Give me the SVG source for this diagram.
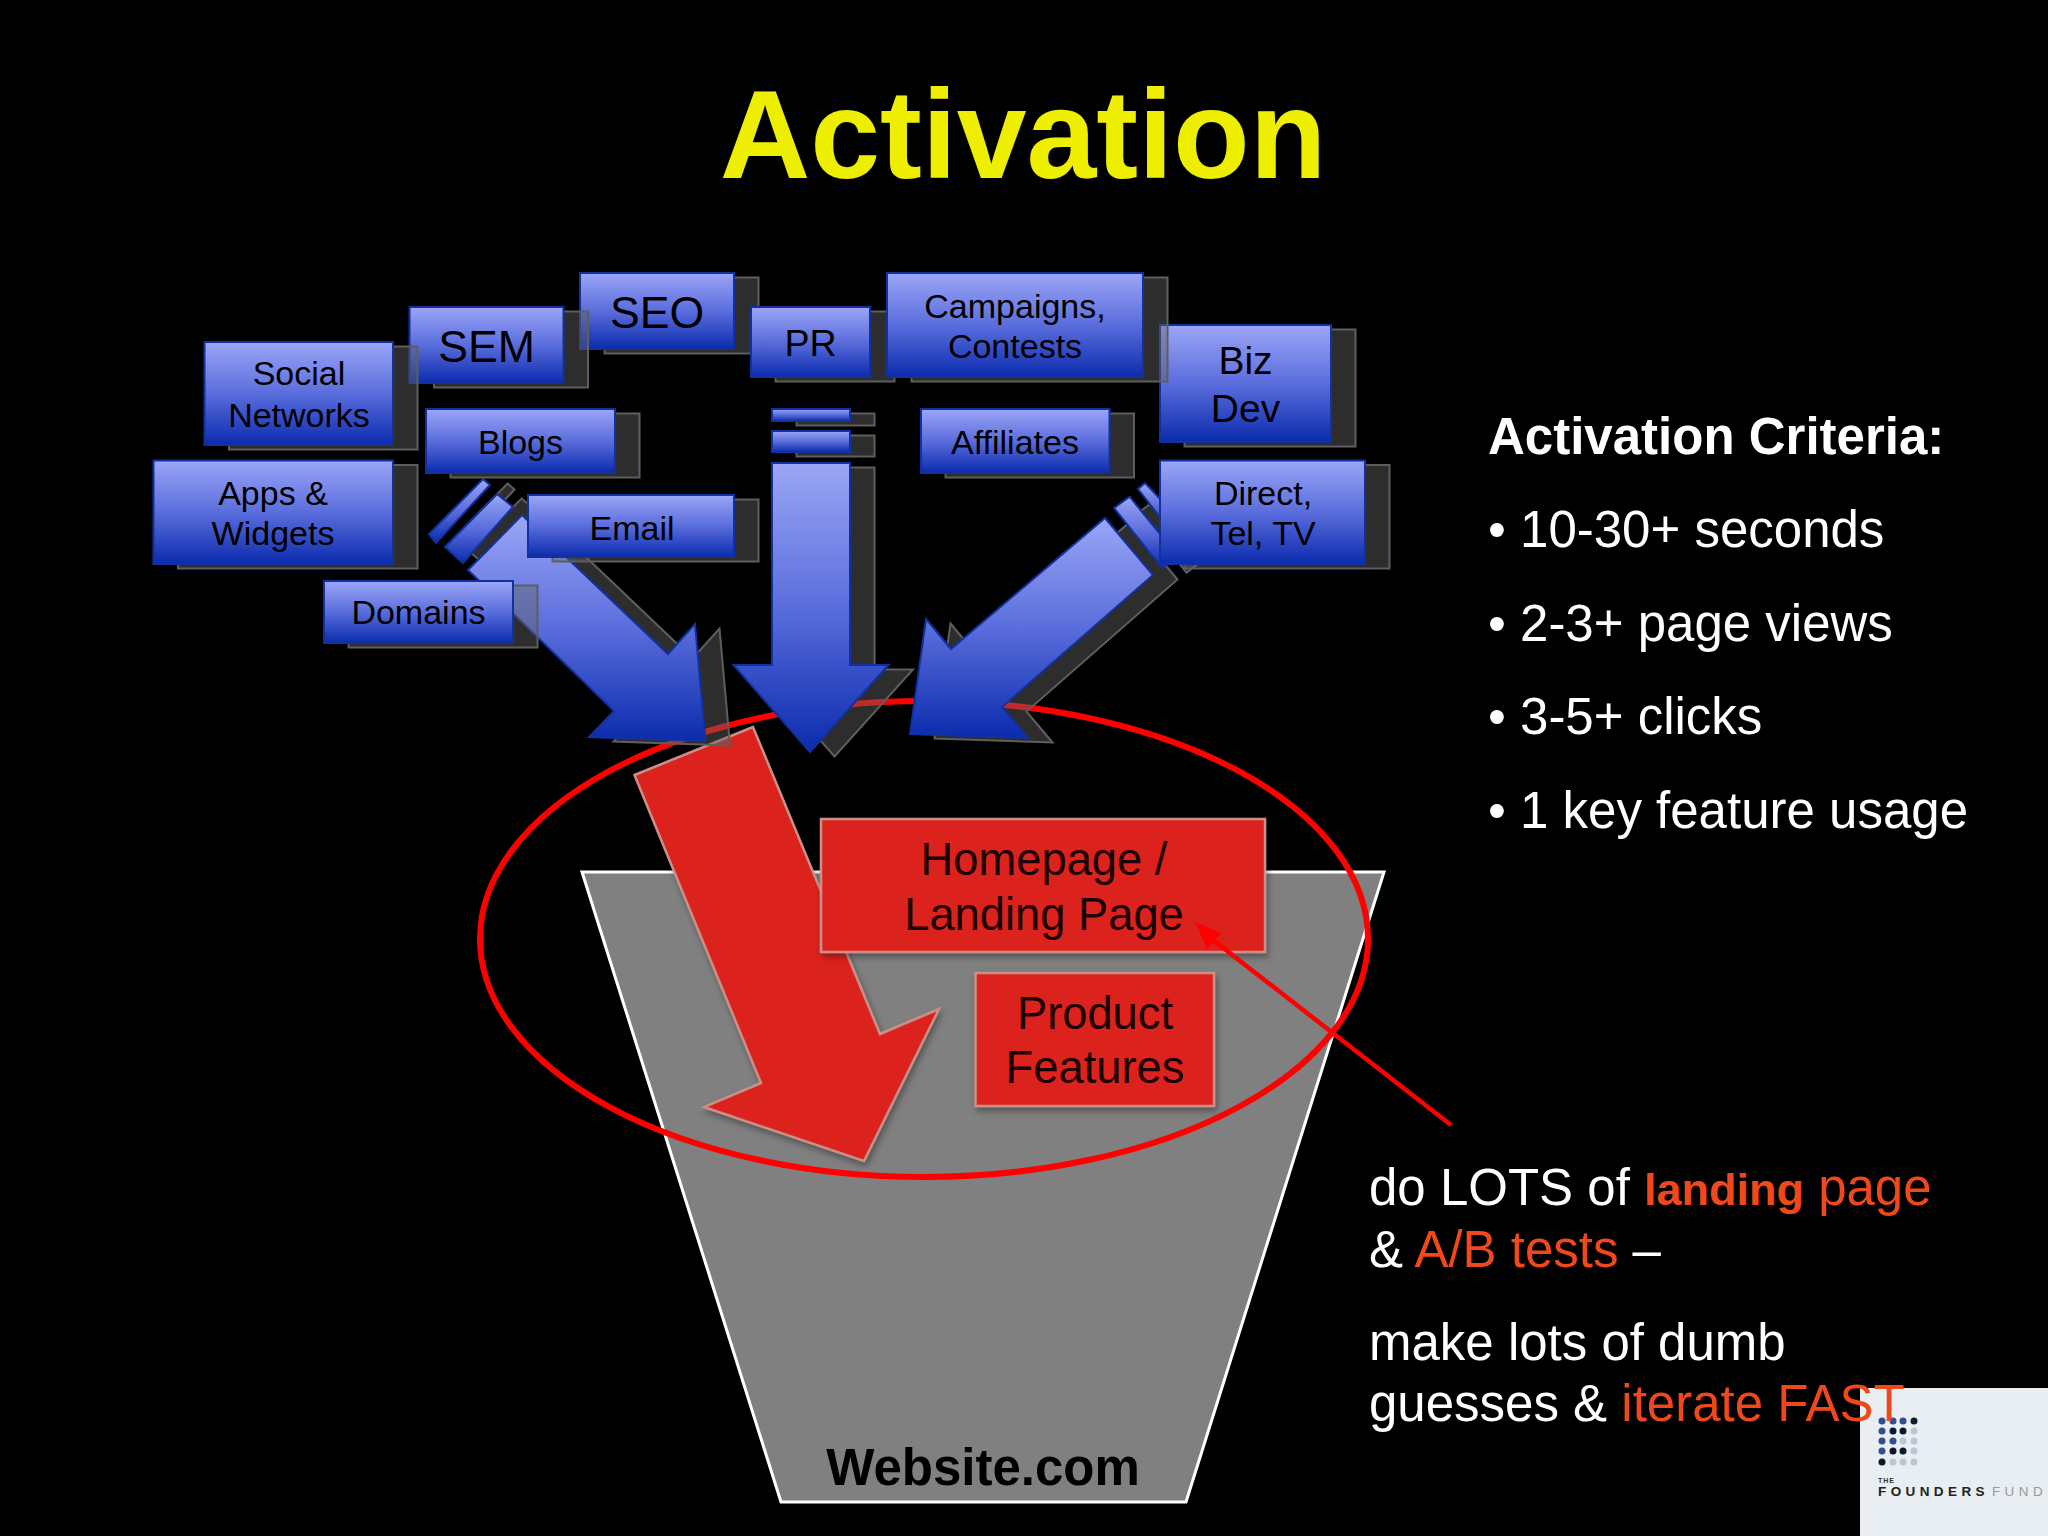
<svg xmlns="http://www.w3.org/2000/svg" width="2048" height="1536" viewBox="0 0 2048 1536">
<defs>
<linearGradient id="blue" x1="0" y1="0" x2="0" y2="1"><stop offset="0" stop-color="#9ba6f6"/><stop offset="0.5" stop-color="#5a6ddc"/><stop offset="1" stop-color="#0b2bad"/></linearGradient>
<filter id="soft" x="-10%" y="-10%" width="120%" height="120%"><feDropShadow dx="2" dy="4" stdDeviation="3" flood-color="#000" flood-opacity="0.35"/></filter>
</defs>
<style>
text{font-family:"Liberation Sans",Arial,sans-serif}
.sh{fill:rgba(100,100,100,.45);stroke:#5e5e5e;stroke-width:2}
.bl{fill:url(#blue);stroke:#12319f;stroke-width:2}
.rd{fill:#dc241b;stroke:#c98f88;stroke-width:2.5;filter:url(#soft)}
.lb{fill:#000;text-anchor:middle}
.rl{fill:#1a0000;text-anchor:middle;font-size:45.300px}
.wt{fill:#fff;font-size:51px}
.or{fill:#f0481a}
.b{font-weight:bold}
</style>
<rect width="2048" height="1536" fill="#000"/>
<text id="title" x="1023" y="178" font-size="125.500" font-weight="bold" fill="#eeee00" text-anchor="middle">Activation</text>

<g id="website">
<polygon points="582,872 1384,872 1186,1502 781,1502" fill="#808080" stroke="#fff" stroke-width="3"/>
<text x="983" y="1485" font-size="51" font-weight="bold" fill="#000" text-anchor="middle">Website.com</text>
</g>
<ellipse id="focus" cx="924" cy="939" rx="444" ry="238" fill="none" stroke="#f00" stroke-width="6"/>

<g id="connectors">
<polygon id="red-arrow" class="rd" points="753,727 634.500,775 761,1083 704,1107 864,1161 939,1009 880,1034"/>
<g id="left-arrow">
<g transform="translate(24.500 4.500)" class="sh"><polygon points="483,479 490,485 436,543 429,534"/><polygon points="497,494 513,507 463,563 445,547"/><polygon points="522,515 468,570 614,711 589,737 705.500,741 695,624 668,654"/></g>
<polygon class="bl" points="483,479 490,485 436,543 429,534"/><polygon class="bl" points="497,494 513,507 463,563 445,547"/>
<polygon class="bl" points="522,515 468,570 614,711 589,737 705.500,741 695,624 668,654"/>
</g>
<g id="center-arrow">
<g transform="translate(24.500 4.500)" class="sh"><rect x="772" y="409" width="78" height="12"/><rect x="772" y="431" width="78" height="21"/><polygon points="772,463 850,463 850,665 888.500,665 810,752 733.500,665 772,665"/></g>
<rect class="bl" x="772" y="409" width="78" height="12"/><rect class="bl" x="772" y="431" width="78" height="21"/>
<polygon class="bl" points="772,463 850,463 850,665 888.500,665 810,752 733.500,665 772,665"/>
</g>
<g id="right-arrow">
<g transform="translate(24.500 4.500)" class="sh"><polygon points="1145,483 1138,489 1170,530 1180,520"/><polygon points="1129.600,496.700 1114,508 1162,568 1178,556"/><polygon points="1105,518 1153,575 1002,707 1028,738 910,734 926,619 951,649"/></g>
<polygon class="bl" points="1145,483 1138,489 1170,530 1180,520"/><polygon class="bl" points="1129.600,496.700 1114,508 1162,568 1178,556"/>
<polygon class="bl" points="1105,518 1153,575 1002,707 1028,738 910,734 926,619 951,649"/>
</g>
</g>

<g id="homepage">
<rect class="rd" x="821" y="819" width="444" height="133"/>
<text class="rl" x="1044" y="875">Homepage /</text><text class="rl" x="1044" y="930">Landing Page</text>
</g>
<g id="product">
<rect class="rd" x="975.500" y="973" width="238.500" height="133"/>
<text class="rl" x="1095" y="1029">Product</text><text class="rl" x="1095" y="1083">Features</text>
</g>

<g id="seo"><rect class="sh" x="604.500" y="277.500" width="154" height="76"/><rect class="bl" x="580" y="273" width="154" height="76"/><text class="lb" x="657" y="328" font-size="44.600">SEO</text></g>
<g id="sem"><rect class="sh" x="434" y="311.500" width="154" height="76"/><rect class="bl" x="409.500" y="307" width="154" height="76"/><text class="lb" x="486.500" y="362" font-size="44.600">SEM</text></g>
<g id="social"><rect class="sh" x="229" y="346.500" width="188.500" height="103"/><rect class="bl" x="204.500" y="342" width="188.500" height="103"/><text class="lb" x="299" y="385" font-size="34">Social</text><text class="lb" x="299" y="427" font-size="34">Networks</text></g>
<g id="pr"><rect class="sh" x="775.500" y="311.500" width="119" height="70"/><rect class="bl" x="751" y="307" width="119" height="70"/><text class="lb" x="810.500" y="356" font-size="37.600">PR</text></g>
<g id="bizdev"><rect class="sh" x="1184.500" y="329.500" width="171" height="117"/><rect class="bl" x="1160" y="325" width="171" height="117"/><text class="lb" x="1245.500" y="374" font-size="39">Biz</text><text class="lb" x="1245.500" y="422" font-size="39">Dev</text></g>
<g id="campaigns"><rect class="sh" x="911.500" y="277.500" width="256" height="104"/><rect class="bl" x="887" y="273" width="256" height="104"/><text class="lb" x="1015" y="318" font-size="34">Campaigns,</text><text class="lb" x="1015" y="358" font-size="34">Contests</text></g>
<g id="blogs"><rect class="sh" x="450.500" y="413.500" width="189" height="64"/><rect class="bl" x="426" y="409" width="189" height="64"/><text class="lb" x="520.500" y="454" font-size="34">Blogs</text></g>
<g id="affiliates"><rect class="sh" x="945.500" y="413.500" width="188.500" height="64"/><rect class="bl" x="921" y="409" width="188.500" height="64"/><text class="lb" x="1015" y="454" font-size="34">Affiliates</text></g>
<g id="apps"><rect class="sh" x="178" y="465" width="239.500" height="103.500"/><rect class="bl" x="153.500" y="460.500" width="239.500" height="103.500"/><text class="lb" x="273" y="505" font-size="34">Apps &amp;</text><text class="lb" x="273" y="545" font-size="34">Widgets</text></g>
<g id="email"><rect class="sh" x="552.500" y="499.500" width="206" height="62"/><rect class="bl" x="528" y="495" width="206" height="62"/><text class="lb" x="632" y="540" font-size="34">Email</text></g>
<g id="domains"><rect class="sh" x="348.500" y="585.500" width="189" height="62"/><rect class="bl" x="324" y="581" width="189" height="62"/><text class="lb" x="418.500" y="624" font-size="34">Domains</text></g>
<g id="direct"><rect class="sh" x="1184.500" y="465" width="205" height="103.500"/><rect class="bl" x="1160" y="460.500" width="205" height="103.500"/><text class="lb" x="1263" y="505" font-size="34">Direct,</text><text class="lb" x="1263" y="545" font-size="34">Tel, TV</text></g>

<g id="callout-arrow"><line x1="1451" y1="1125" x2="1208" y2="936" stroke="#f00" stroke-width="4.500"/><polygon points="1195,922 1221,933 1207,949" fill="#f00"/></g>

<g id="logo">
<rect x="1860" y="1388" width="188" height="148" fill="#e8eef2"/>
<g fill="#2f4f8f"><circle cx="1882" cy="1421" r="3.500"/><circle cx="1893" cy="1421" r="3.500"/><circle cx="1903" cy="1421" r="3.500"/><circle cx="1882" cy="1431" r="3.500"/><circle cx="1882" cy="1441" r="3.500"/><circle cx="1893" cy="1441" r="3.500"/><circle cx="1882" cy="1451" r="3.500"/></g>
<g fill="#0e1a2c"><circle cx="1914" cy="1421" r="3.500"/><circle cx="1893" cy="1431" r="3.500"/><circle cx="1903" cy="1431" r="3.500"/><circle cx="1893" cy="1451" r="3.500"/><circle cx="1903" cy="1451" r="3.500"/><circle cx="1882" cy="1462" r="3.500"/></g>
<g fill="#bcc7d6"><circle cx="1914" cy="1431" r="3.500"/><circle cx="1903" cy="1441" r="3.500"/><circle cx="1914" cy="1441" r="3.500"/><circle cx="1914" cy="1451" r="3.500"/><circle cx="1893" cy="1462" r="3.500"/><circle cx="1903" cy="1462" r="3.500"/><circle cx="1914" cy="1462" r="3.500"/></g>
<text x="1878" y="1483" font-size="7" font-weight="bold" fill="#333" letter-spacing="1">THE</text>
<text x="1878" y="1496" font-size="13.500" letter-spacing="4.400"><tspan font-weight="bold" fill="#222">FOUNDERS</tspan><tspan fill="#999" dx="3">FUND</tspan></text>
</g>

<g id="criteria">
<text class="wt b" x="1488" y="454">Activation Criteria:</text>
<text class="wt" x="1488" y="547">• 10-30+ seconds</text>
<text class="wt" x="1488" y="641">• 2-3+ page views</text>
<text class="wt" x="1488" y="734">• 3-5+ clicks</text>
<text class="wt" x="1488" y="828">• 1 key feature usage</text>
</g>
<g id="note">
<text class="wt" x="1369" y="1205">do LOTS of <tspan class="or b" font-size="45">landing</tspan><tspan class="or"> page</tspan></text>
<text class="wt" x="1369" y="1267">&amp; <tspan class="or">A/B tests</tspan> –</text>
<text class="wt" x="1369" y="1360">make lots of dumb</text>
<text class="wt" x="1369" y="1421">guesses &amp; <tspan class="or">iterate FAST</tspan></text>
</g>
</svg>
